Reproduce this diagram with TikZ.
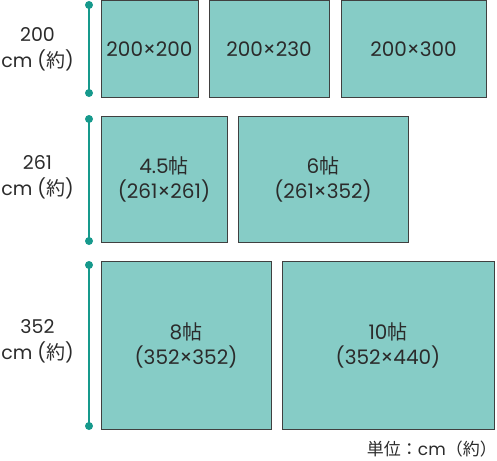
\documentclass[tikz,border=0pt]{standalone}
\usepackage{fontspec}
\setmainfont{Poppins}
\newfontfamily\cjk{Noto Sans CJK JP}
\definecolor{tatami}{HTML}{86CCC6}
\definecolor{rulercol}{HTML}{16998C}
\definecolor{ink}{HTML}{2B2B2B}

\begin{document}
\begin{tikzpicture}[x=1pt,y=-1pt]
\tikzstyle{room}=[rectangle, draw=black!75, fill=tatami, line width=1pt, inner sep=0pt, align=center, text=ink, font=\fontsize{20}{25}\selectfont]
\tikzstyle{sidelbl}=[align=center, inner sep=0pt, text=ink, font=\fontsize{19}{26}\selectfont]
\tikzstyle{ruler}=[draw=rulercol, line width=2.5pt]
\tikzstyle{enddot}=[fill=rulercol]
\useasboundingbox (0,0) rectangle (497,460);
% row 1
\node (00) [room, minimum width=97, minimum height=96] at (149.5,49) {200×200};
\node (01) [room, minimum width=120, minimum height=96] at (269,49) {200×230};
\node (02) [room, minimum width=145, minimum height=96] at (413.5,49) {200×300};
% row 2
\node (10) [room, minimum width=126, minimum height=126] at (164,179) {4.5{\cjk 帖}\\(261×261)};
\node (11) [room, minimum width=170, minimum height=126] at (323,179) {6{\cjk 帖}\\(261×352)};
% row 3
\node (20) [room, minimum width=170, minimum height=168] at (186,345) {8{\cjk 帖}\\(352×352)};
\node (21) [room, minimum width=212, minimum height=168] at (388,345) {10{\cjk 帖}\\(352×440)};
% rulers
\coordinate (r0t) at (89,5);   \coordinate (r0b) at (89,93);
\coordinate (r1t) at (89,119); \coordinate (r1b) at (89,241);
\coordinate (r2t) at (89,265); \coordinate (r2b) at (89,426);
\foreach \r in {r0,r1,r2} {
  \draw[ruler] (\r t) -- (\r b);
  \fill[enddot] (\r t) circle (4);
  \fill[enddot] (\r b) circle (4);
}
% side labels
\node (l0) [sidelbl] at (37.5,49) {200\\cm ({\cjk 約})};
\node (l1) [sidelbl] at (37.5,177) {261\\cm ({\cjk 約})};
\node (l2) [sidelbl] at (37.5,341) {352\\cm ({\cjk 約})};
\node (unit) [anchor=east, inner sep=0pt, text=ink, font=\fontsize{17}{19}\selectfont] at (497,449) {{\cjk 単位：}cm{\cjk （約）}};
\end{tikzpicture}
\end{document}
